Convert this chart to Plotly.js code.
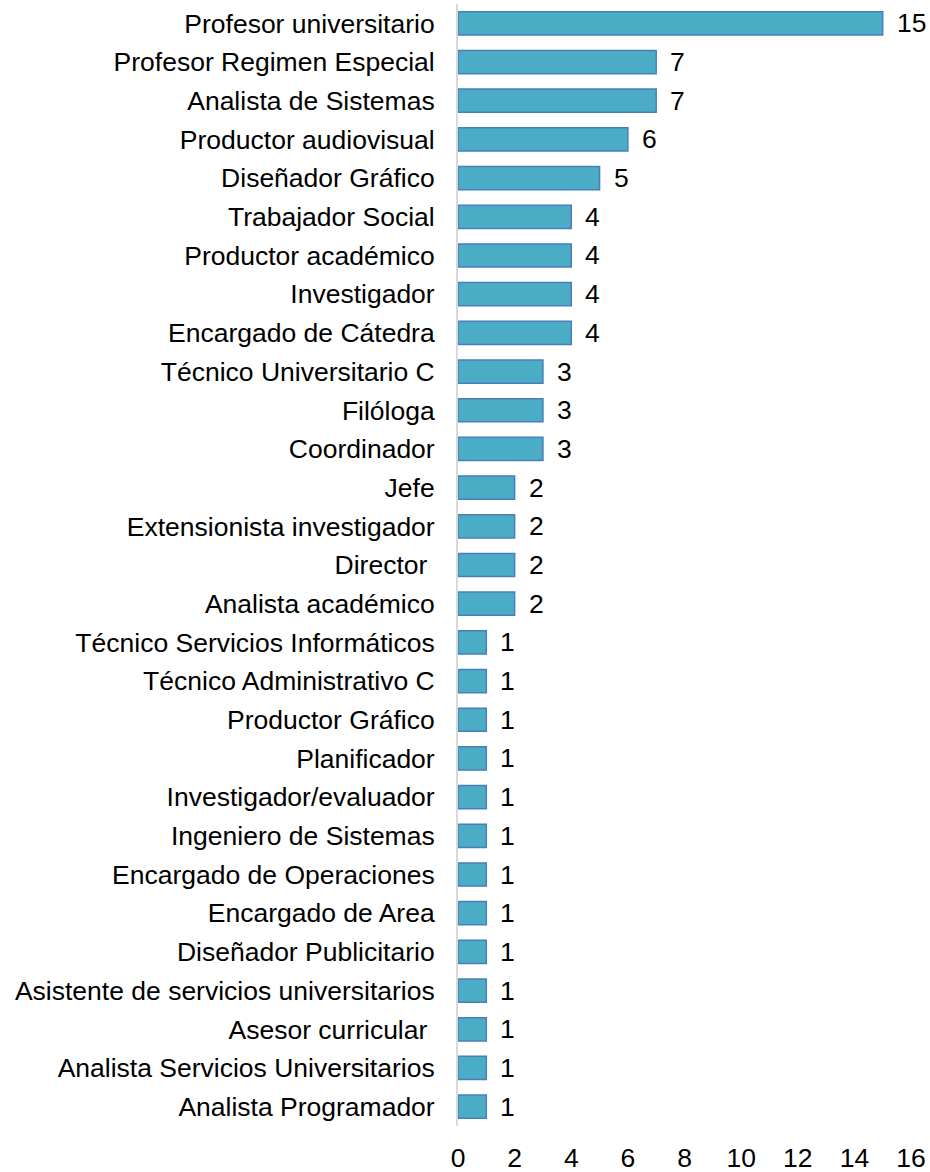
<!DOCTYPE html>
<html>
<head>
<meta charset="utf-8">
<script src="https://cdn.plot.ly/plotly-3.0.1.min.js"></script>
<style>html,body{margin:0;padding:0;background:#fff;}#chart{width:930px;height:1172px;}</style>
</head>
<body>
<div id="chart"></div>
<script>
const categories = [
  "Profesor universitario",
  "Profesor Regimen Especial",
  "Analista de Sistemas",
  "Productor audiovisual",
  "Diseñador Gráfico",
  "Trabajador Social",
  "Productor académico",
  "Investigador",
  "Encargado de Cátedra",
  "Técnico Universitario C",
  "Filóloga",
  "Coordinador",
  "Jefe",
  "Extensionista investigador",
  "Director ",
  "Analista académico",
  "Técnico Servicios Informáticos",
  "Técnico Administrativo C",
  "Productor Gráfico",
  "Planificador",
  "Investigador/evaluador",
  "Ingeniero de Sistemas",
  "Encargado de Operaciones",
  "Encargado de Area",
  "Diseñador Publicitario",
  "Asistente de servicios universitarios",
  "Asesor curricular ",
  "Analista Servicios Universitarios",
  "Analista Programador"
];
const values = [15, 7, 7, 6, 5, 4, 4, 4, 4, 3, 3, 3, 2, 2, 2, 2, 1, 1, 1, 1, 1, 1, 1, 1, 1, 1, 1, 1, 1];
const xTicks = [0, 2, 4, 6, 8, 10, 12, 14, 16];

const font = {family: "Liberation Sans, Arial, sans-serif", size: 26.5, color: "#000000"};

const trace = {
  type: "bar",
  orientation: "h",
  x: values,
  y: categories,
  marker: {color: "#4BACC6", line: {color: "#4A7EBB", width: 1.5}},
  hoverinfo: "none"
};

const annotations = categories.map((c, i) => ({
  x: values[i], y: c, xref: "x", yref: "y",
  text: String(values[i]), showarrow: false,
  xanchor: "left", yanchor: "middle", xshift: 12,
  font: font
}));

const layout = {
  width: 930, height: 1172,
  margin: {l: 458, r: 19, t: 4, b: 46},
  paper_bgcolor: "#ffffff", plot_bgcolor: "#ffffff",
  bargap: 0.4,
  showlegend: false,
  font: font,
  xaxis: {
    range: [0, 16], tickvals: xTicks, ticktext: xTicks.map(String),
    showgrid: false, zeroline: false, showline: false,
    ticks: "", ticklabelstandoff: 13, tickfont: font, fixedrange: true
  },
  yaxis: {
    type: "category", autorange: "reversed",
    showgrid: false, zeroline: false,
    showline: true, linecolor: "#D9D9D9", linewidth: 2,
    ticks: "", ticklabelstandoff: 16, tickfont: font, fixedrange: true
  },
  annotations: annotations
};

Plotly.newPlot("chart", [trace], layout, {displayModeBar: false, staticPlot: true});
</script>
</body>
</html>
